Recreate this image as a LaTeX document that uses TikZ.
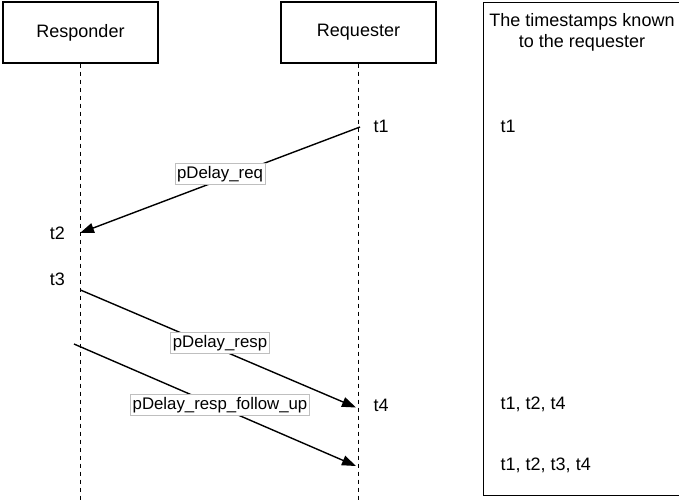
\documentclass[tikz,border=0pt]{standalone}
\usepackage{fontspec}
\setmainfont{Liberation Sans}
\usetikzlibrary{arrows.meta}
\begin{document}
\begin{tikzpicture}[x=1pt,y=-1pt,
  actor/.style={draw=black,line width=1.3pt,minimum width=155pt,minimum height=61pt,inner sep=0pt,font=\fontsize{18}{21}\selectfont},
  lifeline/.style={draw=black,line width=1.1pt,dash pattern=on 4pt off 4pt},
  msg/.style={draw=black,line width=1.4pt,-{Triangle[length=14pt,width=10pt]}},
  msglabel/.style={draw=black!25,fill=white,line width=0.8pt,inner xsep=2pt,inner ysep=2pt,text height=13pt,text depth=4pt,font=\fontsize{16.8}{20}\selectfont},
  stamp/.style={inner sep=0pt,font=\fontsize{18}{21}\selectfont}]
\useasboundingbox (0,0) rectangle (679,501);
% right column box
\node[draw=black,line width=1.3pt,minimum width=200pt,minimum height=493pt,inner sep=0pt,anchor=north west] (known) at (483,2) {};
\node[stamp,align=center,font=\fontsize{18}{21}\selectfont] (head) at (582,32.5) {The timestamps known\\to the requester};
% actors
\node[actor] (resp) at (80.5,32.5) {Responder};
\node[actor] (req) at (358.5,32.5) {Requester};
% lifelines
\coordinate (respEnd) at (80.5,501);
\coordinate (reqEnd) at (358.5,501);
\draw[lifeline] (resp.south) -- (respEnd);
\draw[lifeline] (req.south) -- (reqEnd);
% message end points
\coordinate (m1s) at (360,127);
\coordinate (m1e) at (80,233);
\coordinate (m2s) at (80.5,290);
\coordinate (m2e) at (356,407.5);
\coordinate (m3s) at (74,344);
\coordinate (m3e) at (356,466);
\draw[msg] (m1s) -- (m1e);
\draw[msg] (m2s) -- (m2e);
\draw[msg] (m3s) -- (m3e);
% labels
\node[msglabel] (l1) at (220,173.5) {pDelay\_req};
\node[msglabel] (l2) at (220,342.5) {pDelay\_resp};
\node[msglabel] (l3) at (220,405) {pDelay\_resp\_follow\_up};
% timestamps
\node[stamp] (t1) at (381,126) {t1};
\node[stamp] (t2) at (57.5,233) {t2};
\node[stamp] (t3) at (57.5,279) {t3};
\node[stamp] (t4) at (381,405) {t4};
% known timestamps
\node[stamp,anchor=west] (k1) at (500.5,126) {t1};
\node[stamp,anchor=west] (k2) at (500.5,404) {t1, t2, t4};
\node[stamp,anchor=west] (k3) at (500.5,465) {t1, t2, t3, t4};
\end{tikzpicture}
\end{document}
